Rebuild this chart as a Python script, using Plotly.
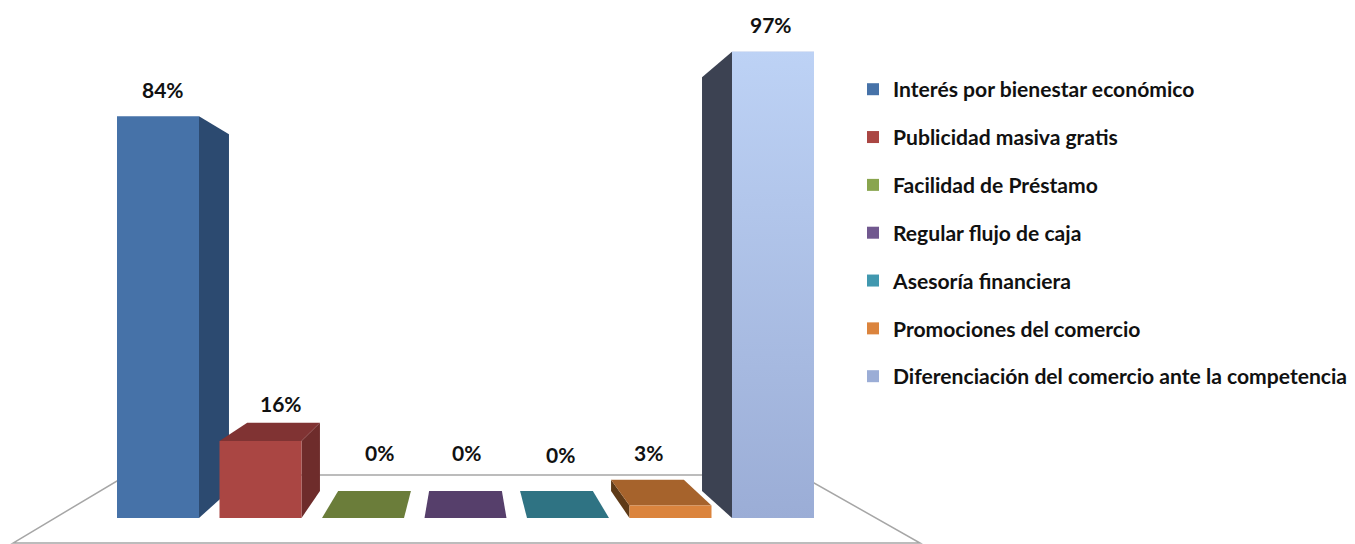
import plotly.graph_objects as go

# ---- data ----
categories = ["Interés por bienestar económico", "Publicidad masiva gratis", "Facilidad de Préstamo",
              "Regular flujo de caja", "Asesoría financiera", "Promociones del comercio",
              "Diferenciación del comercio ante la competencia"]
values = [83.6, 16.0, 0.0, 0.0, 0.0, 2.6, 97.0]
labels = ["84%", "16%", "0%", "0%", "0%", "3%", "97%"]

# ---- styles ----
front_colors = ["#4672a8", "#aa4643", "#89a54e", "#71588f", "#4198af", "#db843d", "#9badd6"]
top_colors = ["#2c4a70", "#803333", "#6b7d3a", "#563f6b", "#2f7383", "#a6632c", "#8497c2"]
side_colors = ["#2c4a70", "#6e2c2b", "#5c6b30", "#4a355c", "#27626f", "#5e3a17", "#3c4252"]
label_dx = [5, 20, 16, 1, -8, -22, -2]
label_dy = [27, 38, 66, 66, 64, 53, 27]

W, H = 1355, 544
PX_PER_CAT = 102.5
PX_PER_PCT = 4.807
X0_PX, Y0_PX = 158, 518
BAR_W = 0.8
DEPTH = 0.8875
VAN_X, VAN_Y = 3.0, 50.0

xr = [-X0_PX / PX_PER_CAT, (W - X0_PX) / PX_PER_CAT]
yr = [-(H - Y0_PX) / PX_PER_PCT, Y0_PX / PX_PER_PCT]


def back(x, y):
    return VAN_X + DEPTH * (x - VAN_X), VAN_Y + DEPTH * (y - VAN_Y)


def face(pts, color, group):
    xs, ys = zip(*(pts + pts[:1]))
    return go.Scatter(x=xs, y=ys, fill="toself", fillcolor=color, mode="lines",
                      line=dict(width=0, color=color), showlegend=False,
                      legendgroup=group, hoverinfo="skip")


fig = go.Figure()

# front faces (overlay axes, above the side faces)
for i, (c, v) in enumerate(zip(categories, values)):
    fig.add_trace(go.Bar(x=[i], y=[v], width=BAR_W, name=c, marker=dict(color=front_colors[i], line_width=0),
                         legendgroup=c, xaxis="x2", yaxis="y2"))

# depth faces
for i, (c, v) in enumerate(zip(categories, values)):
    L, R = i - BAR_W / 2, i + BAR_W / 2
    edge = R if i < VAN_X else L
    if i != VAN_X and v > 0:
        fig.add_trace(face([(edge, 0), (edge, v), back(edge, v), back(edge, 0)], side_colors[i], c))
    if v < VAN_Y:
        fig.add_trace(face([(L, v), (R, v), back(R, v), back(L, v)], top_colors[i], c))

# vertical gradient on the tallest bar's front
i = values.index(max(values))
v = values[i]
L, R = i - BAR_W / 2, i + BAR_W / 2
fig.add_trace(go.Scatter(x=[L, R, R, L, L], y=[0, 0, v, v, 0], fill="toself", mode="lines",
                         line_width=0, showlegend=False, legendgroup=categories[i], hoverinfo="skip",
                         xaxis="x2", yaxis="y2",
                         fillgradient=dict(type="vertical", colorscale=[[0, "#9badd6"], [1, "#bdd2f5"]])))

# value labels
annotations = [dict(x=i, y=v, xref="x2", yref="y2", text=f"<b>{t}</b>", showarrow=False,
                    xshift=label_dx[i], yshift=label_dy[i],
                    font=dict(family="Lato", size=21, color="#111111"))
               for i, (v, t) in enumerate(zip(values, labels))]


# floor outline
def px(x, y):
    return x / W, 1 - y / H


floor_px = [(13, 543), (127, 475), (800, 475), (920, 543)]
path = "M " + " L ".join(f"{px(a, b)[0]:.4f},{px(a, b)[1]:.4f}" for a, b in floor_px) + " Z"
shapes = [dict(type="path", xref="paper", yref="paper", path=path, layer="below",
               line=dict(color="#a6a6a6", width=1.5), fillcolor="rgba(0,0,0,0)")]

axis = dict(visible=False, fixedrange=True)
fig.update_layout(
    width=W, height=H, margin=dict(l=0, r=0, t=0, b=0), autosize=False,
    paper_bgcolor="white", plot_bgcolor="white",
    xaxis=dict(range=xr, **axis), yaxis=dict(range=yr, **axis),
    xaxis2=dict(range=xr, overlaying="x", **axis), yaxis2=dict(range=yr, overlaying="y", **axis),
    annotations=annotations, shapes=shapes,
    legend=dict(x=853 / W, y=1 - 69 / H, xanchor="left", yanchor="top", tracegroupgap=17.4,
                bgcolor="rgba(0,0,0,0)", itemclick=False, itemdoubleclick=False,
                font=dict(family="Lato", size=21.1, color="#111111", weight=700)),
    showlegend=True, hovermode=False,
)

fig.write_html("out.html", config=dict(displayModeBar=False),
               post_script="document.body.style.margin='0';")
